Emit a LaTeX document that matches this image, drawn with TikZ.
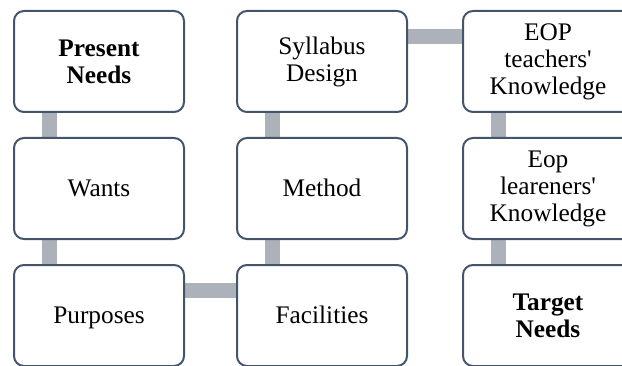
\documentclass[tikz,border=0pt]{standalone}
\usepackage{fontspec}
\setmainfont{Liberation Serif}
\usetikzlibrary{backgrounds}
\definecolor{boxline}{HTML}{44546A}
\definecolor{conngray}{HTML}{ADB1BA}
\newcommand{\oneline}[1]{\rule[-6pt]{0pt}{28.6pt}#1}
\begin{document}
\begin{tikzpicture}[x=1pt,y=1pt,
  box/.style={draw=boxline, line width=2pt, fill=white, rounded corners=10pt,
    minimum width=170pt, minimum height=101pt, align=center, inner sep=2pt,
    font=\fontsize{25.3}{27}\selectfont},
  conn/.style={draw=conngray, line width=15pt}]
\useasboundingbox (0,0) rectangle (622,365);
\node[box] (pn) at (99,303.5) {\textbf{Present}\\\textbf{Needs}};
\node[box] (wa) at (99,176.5) {\oneline{Wants}};
\node[box] (pu) at (99,49.5) {\oneline{Purposes}};
\node[box] (sd) at (322,303.5) {Syllabus\\Design};
\node[box] (me) at (322,176.5) {\oneline{Method}};
\node[box] (fa) at (322,49.5) {\oneline{Facilities}};
\node[box] (et) at (548,303.5) {EOP\\teachers\textquotesingle\\Knowledge};
\node[box] (el) at (548,176.5) {Eop\\leareners\textquotesingle\\Knowledge};
\node[box] (tn) at (548,49.5) {\textbf{Target}\\\textbf{Needs}};
\begin{scope}[on background layer]
\draw[conn] ([xshift=-50pt]pn.center) -- ([xshift=-50pt]wa.center);
\draw[conn] ([xshift=-50pt]wa.center) -- ([xshift=-50pt]pu.center);
\draw[conn] ([yshift=25pt]pu.center) -- ([yshift=25pt]fa.center);
\draw[conn] ([xshift=-50pt]fa.center) -- ([xshift=-50pt]me.center);
\draw[conn] ([xshift=-50pt]me.center) -- ([xshift=-50pt]sd.center);
\draw[conn] ([yshift=25pt]sd.center) -- ([yshift=25pt]et.center);
\draw[conn] ([xshift=-50pt]et.center) -- ([xshift=-50pt]el.center);
\draw[conn] ([xshift=-50pt]el.center) -- ([xshift=-50pt]tn.center);
\end{scope}
\end{tikzpicture}
\end{document}
